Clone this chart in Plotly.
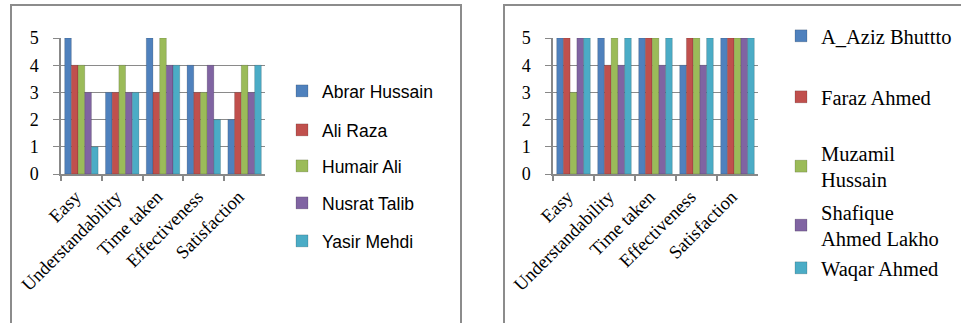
import plotly.graph_objects as go

W, H = 961, 323

categories = ["Easy", "Understandability", "Time taken", "Effectiveness", "Satisfaction"]
colors = ["#4F81BD", "#C0504D", "#9BBB59", "#8064A2", "#4BACC6"]

# Left panel respondents
left_names = ["Abrar Hussain", "Ali Raza", "Humair Ali", "Nusrat Talib", "Yasir Mehdi"]
abrar_hussain = [5, 3, 5, 4, 2]
ali_raza = [4, 3, 3, 3, 3]
humair_ali = [4, 4, 5, 3, 4]
nusrat_talib = [3, 3, 4, 4, 3]
yasir_mehdi = [1, 3, 4, 2, 4]
left_values = [abrar_hussain, ali_raza, humair_ali, nusrat_talib, yasir_mehdi]

# Right panel respondents
right_names = ["A_Aziz Bhuttto", "Faraz Ahmed", "Muzamil<br>Hussain",
               "Shafique<br>Ahmed Lakho", "Waqar Ahmed"]
aziz_bhutto = [5, 5, 5, 4, 5]
faraz_ahmed = [5, 4, 5, 5, 5]
muzamil_hussain = [3, 5, 5, 5, 5]
shafique_lakho = [5, 4, 4, 4, 5]
waqar_ahmed = [5, 5, 5, 5, 5]
right_values = [aziz_bhutto, faraz_ahmed, muzamil_hussain, shafique_lakho, waqar_ahmed]

y_ticks = [0, 1, 2, 3, 4, 5]

# legend item tops (px) for each panel
left_legend_top = [73, 112, 148, 185, 223]
right_legend_top = [16, 77, 133, 192, 248]

fig = go.Figure()

legend_layout = {}
idx = 0
for panel, (names, values, xa, ya, lx, tops, fam, fs) in enumerate([
    (left_names, left_values, "x", "y", 282, left_legend_top, "Liberation Sans", 17.5),
    (right_names, right_values, "x2", "y2", 781, right_legend_top, "Liberation Serif", 20.5),
]):
    for i, (name, vals) in enumerate(zip(names, values)):
        idx += 1
        key = "legend" if idx == 1 else f"legend{idx}"
        fig.add_trace(go.Bar(
            x=categories, y=vals, name=name, xaxis=xa, yaxis=ya,
            marker=dict(color=colors[i], line=dict(color="rgba(0,0,0,0.25)", width=0.6)),
            legend=key, showlegend=True,
        ))
        legend_layout[key] = dict(
            x=lx / W, y=1 - tops[i] / H, xanchor="left", yanchor="top",
            bgcolor="rgba(0,0,0,0)", borderwidth=0,
            font=dict(family=fam, size=fs, color="#000"),
            itemclick=False, itemdoubleclick=False,
        )

axis_common_x = dict(
    type="category", showgrid=False, showline=True, linecolor="#888", linewidth=1.5,
    ticks="outside", tickson="boundaries", ticklen=5, tickcolor="#888", tickwidth=1.5,
    tickangle=-45, tickfont=dict(family="Liberation Serif", size=18.5, color="#000"),
    ticklabelstandoff=3, ticklabelshift=-6, fixedrange=True,
)
axis_common_y = dict(
    range=[0, 5], tickvals=y_ticks, showgrid=True, gridcolor="#8a8a8a", gridwidth=1.2,
    showline=True, linecolor="#888", linewidth=1.5, ticks="outside", ticklen=6,
    tickcolor="#888", tickfont=dict(family="Liberation Serif", size=18, color="#000"),
    ticklabelstandoff=11, zeroline=False, fixedrange=True,
)

y0, y5 = 174, 38
ydom = [(H - y0) / H, (H - y5) / H]

fig.update_layout(
    width=W, height=H, margin=dict(l=0, r=0, t=0, b=0, autoexpand=False),
    font=dict(family="Liberation Serif", color="#000"),
    paper_bgcolor="white", plot_bgcolor="white",
    barmode="group", bargap=0.18, bargroupgap=0,
    xaxis=dict(domain=[61 / W, 265 / W], anchor="y", **axis_common_x),
    yaxis=dict(domain=ydom, anchor="x", **axis_common_y),
    xaxis2=dict(domain=[553 / W, 758 / W], anchor="y2", **axis_common_x),
    yaxis2=dict(domain=ydom, anchor="x2", **axis_common_y),
    shapes=[
        dict(type="rect", xref="paper", yref="paper",
             x0=11 / W, x1=461 / W, y0=-0.05, y1=1 - 5 / H,
             line=dict(color="#8c8c8c", width=2), fillcolor="rgba(0,0,0,0)", layer="below"),
        dict(type="rect", xref="paper", yref="paper",
             x0=504 / W, x1=1.05, y0=-0.05, y1=1 - 5 / H,
             line=dict(color="#8c8c8c", width=2), fillcolor="rgba(0,0,0,0)", layer="below"),
    ],
    **legend_layout,
)

fig.write_html("out.html")
